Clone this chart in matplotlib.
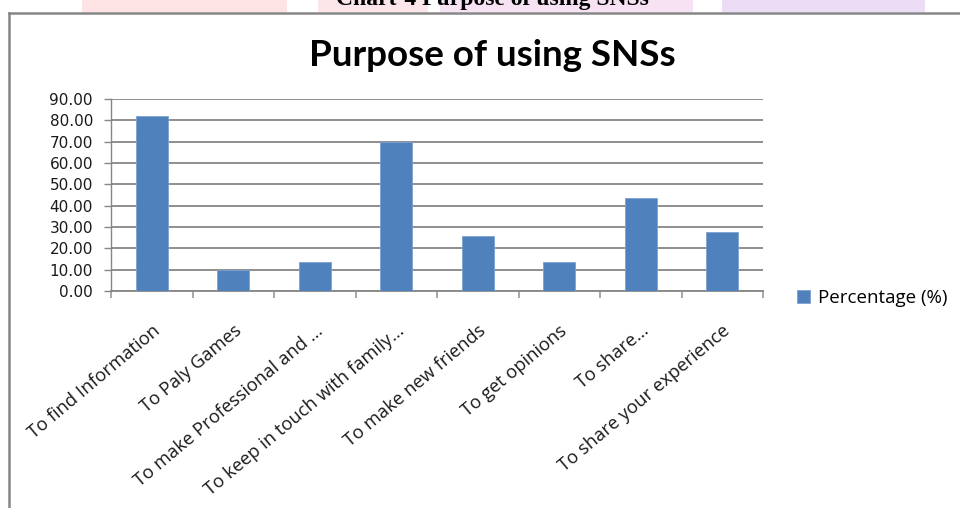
import matplotlib
matplotlib.use('Agg')
import matplotlib.pyplot as plt
from matplotlib.patches import Rectangle
from matplotlib.lines import Line2D
import numpy as np

# данные
purposes = ['To find Information', 'To Paly Games', 'To make Professional and \u2026',
            'To keep in touch with family\u2026', 'To make new friends',
            'To get opinions', 'To share\u2026', 'To share your experience']
percentage = [82.0, 10.0, 13.5, 70.0, 26.0, 13.5, 43.5, 27.5]
y_ticks = [0, 10, 20, 30, 40, 50, 60, 70, 80, 90]
series_name = 'Percentage (%)'
chart_title = 'Purpose of using SNSs'
caption = 'Chart-4 Purpose of using SNSs'

W, H = 960, 508
fig = plt.figure(figsize=(W / 100, H / 100), dpi=100)

# фон страницы над рамкой диаграммы
for x0, x1, c in [(82, 287, '#fde3e3'), (318, 428, '#fde6ea'),
                  (440, 693, '#f6e2f2'), (722, 925, '#ecdcf5')]:
    fig.add_artist(Rectangle((x0 / W, 1 - 12 / H), (x1 - x0) / W, 12 / H,
                             transform=fig.transFigure, color=c, lw=0, zorder=0))
fig.text(492 / W, 1 - 5 / H, caption, ha='center', va='baseline',
         family='Liberation Serif', weight='bold', fontsize=17, color='black')

# рамка диаграммы
fig.add_artist(Line2D([8.5 / W, 8.5 / W], [0, 1 - 12.5 / H], transform=fig.transFigure,
                      color='#868686', lw=1.8))
fig.add_artist(Line2D([8.5 / W, 1], [1 - 12.5 / H, 1 - 12.5 / H], transform=fig.transFigure,
                      color='#868686', lw=1.8))

ax = fig.add_axes([111 / W, 1 - 291 / H, (763 - 111) / W, (291 - 99) / H])
x = np.arange(len(purposes))
ax.bar(x, percentage, width=0.39, color='#4f81bd', edgecolor='#7fa2cf', lw=0.6,
       label=series_name, zorder=3)

ax.set_xlim(-0.5, len(purposes) - 0.5)
ax.set_ylim(0, 90)
ax.set_yticks(y_ticks)
ax.set_yticklabels(['%.2f' % v for v in y_ticks])
ax.yaxis.grid(True, color='#868686', lw=1.3, zorder=0)
ax.set_axisbelow(True)

for s in ['top', 'right']:
    ax.spines[s].set_visible(False)
ax.spines['left'].set_color('#868686')
ax.spines['bottom'].set_color('#868686')
ax.spines['left'].set_linewidth(1.0)
ax.spines['bottom'].set_linewidth(1.3)

ax.tick_params(axis='y', direction='out', length=5, color='#868686', width=1,
               labelsize=11, labelcolor='#1a1a1a', pad=8)
# деления на границах категорий
ax.set_xticks(np.arange(len(purposes) + 1) - 0.5)
ax.set_xticklabels([])
ax.tick_params(axis='x', which='major', direction='out', length=5, color='#a0a0a0', width=1.3)
ax.set_xticks(x, minor=True)
ax.set_xticklabels(purposes, minor=True, rotation=40, ha='right', va='top',
                   rotation_mode='anchor', family='Open Sans', fontsize=13.2, color='#1a1a1a')
ax.tick_params(axis='x', which='minor', length=0, pad=22)

for lab in ax.get_yticklabels():
    lab.set_family('DejaVu Sans')

fig.text(492 / W, 1 - 55 / H, chart_title, ha='center', va='center',
         family='Lato', weight='bold', fontsize=26.5, color='black')

ax.legend(loc='center left', bbox_to_anchor=(797 / W, 1 - 298 / H),
          bbox_transform=fig.transFigure, frameon=False, handlelength=0.7,
          handleheight=0.7, handletextpad=0.4, borderpad=0, borderaxespad=0,
          prop={'family': 'Open Sans', 'size': 13.5})

fig.savefig('out.png', dpi=100)
